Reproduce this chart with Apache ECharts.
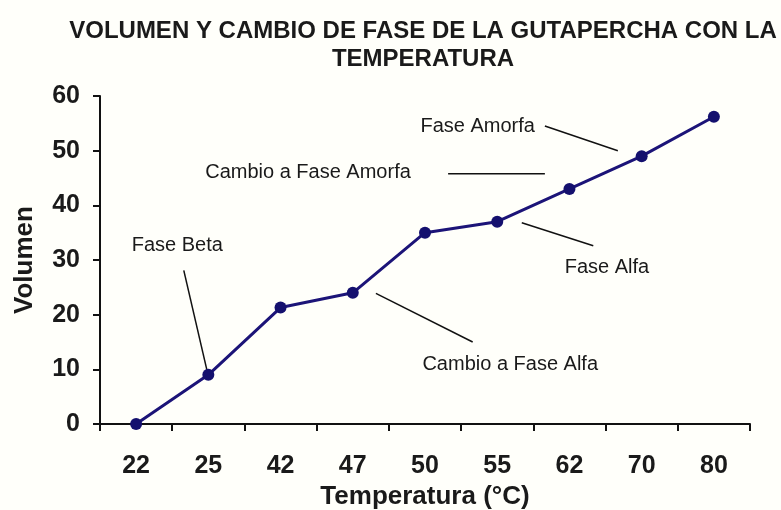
<!DOCTYPE html>
<html>
<head>
<meta charset="utf-8">
<script src="https://cdn.jsdelivr.net/npm/echarts@6/dist/echarts.min.js"></script>
<style>
  html, body { margin: 0; padding: 0; background: #fffffa; }
  #chart { width: 781px; height: 510px; }
</style>
</head>
<body>
<div id="chart"></div>
<script>
const temperatures = ["22", "25", "42", "47", "50", "55", "62", "70", "80"]
const volumen = [0, 9, 21.3, 24, 35, 37, 43, 49, 56.2]
const yTicks = [0, 10, 20, 30, 40, 50, 60]

// annotations, in data units: x runs over category indexes (-0.5 .. 8.5)
const noteTexts = ["Fase Beta", "Cambio a Fase Alfa", "Fase Alfa", "Cambio a Fase Amorfa", "Fase Amorfa"]
const notePoints = [[0.57, 32.6], [5.18, 10.8], [6.52, 28.6], [2.38, 46.0], [4.73, 54.5]]
const leaderLines = [
  [[0.66, 28.1], [0.99, 9.3]],
  [[3.32, 23.9], [4.66, 15.0]],
  [[5.34, 36.8], [6.33, 32.6]],
  [[4.32, 45.8], [5.66, 45.8]],
  [[5.66, 54.5], [6.67, 50.0]]
]

const chart = echarts.init(document.getElementById("chart"))

const colors = {
  line: "#1c1478",
  dot: "#14106e",
  axis: "#111111",
  text: "#1a1a1a"
}
const font = "'Liberation Sans', Arial, sans-serif"

const leaderSeries = leaderLines.map(seg => ({
  type: "line",
  xAxisIndex: 1,
  data: seg,
  symbol: "none",
  silent: true,
  lineStyle: { color: "#111", width: 1.5 },
  z: 1
}))

const option = {
  backgroundColor: "#fffffa",
  animation: false,
  title: {
    text: "VOLUMEN Y CAMBIO DE FASE DE LA GUTAPERCHA CON LA\nTEMPERATURA",
    left: 418,
    top: 12,
    textAlign: "center",
    textStyle: {
      fontFamily: font,
      fontWeight: "bold",
      fontSize: 24,
      lineHeight: 28,
      color: colors.text
    }
  },
  grid: { left: 100, right: 31, top: 96, bottom: 86, outerBoundsMode: "none" },
  xAxis: [
    {
      type: "category",
      data: temperatures,
      boundaryGap: true,
      name: "Temperatura (°C)",
      nameLocation: "middle",
      nameGap: 58,
      nameTextStyle: { fontFamily: font, fontWeight: "bold", fontSize: 26, color: colors.text },
      axisLine: { lineStyle: { color: colors.axis, width: 2 } },
      axisTick: { show: true, interval: 0, length: 7, lineStyle: { color: colors.axis, width: 2 } },
      axisLabel: { fontFamily: font, fontWeight: "bold", fontSize: 25, color: colors.text, margin: 30, interval: 0 },
      splitLine: { show: false }
    },
    { type: "value", min: -0.5, max: 8.5, show: false }
  ],
  yAxis: {
    type: "value",
    min: yTicks[0],
    max: yTicks[yTicks.length - 1],
    interval: 10,
    name: "Volumen",
    nameLocation: "middle",
    nameGap: 62,
    nameRotate: 90,
    nameTextStyle: { fontFamily: font, fontWeight: "bold", fontSize: 26, color: colors.text },
    axisLine: { show: true, onZero: false, lineStyle: { color: colors.axis, width: 2 } },
    axisTick: { show: true, length: 7, lineStyle: { color: colors.axis, width: 2 } },
    axisLabel: { fontFamily: font, fontWeight: "bold", fontSize: 25, color: colors.text, margin: 20 },
    splitLine: { show: false }
  },
  series: [
    ...leaderSeries,
    {
      type: "scatter",
      xAxisIndex: 1,
      symbolSize: 0,
      silent: true,
      itemStyle: { opacity: 1 },
      data: notePoints.map((p, i) => ({ value: p, name: noteTexts[i] })),
      label: {
        show: true,
        position: "inside",
        formatter: p => p.name,
        fontFamily: font,
        fontSize: 20,
        color: colors.text
      }
    },
    {
      type: "line",
      data: volumen,
      symbol: "circle",
      symbolSize: 12,
      lineStyle: { color: colors.line, width: 3 },
      itemStyle: { color: colors.dot },
      z: 3
    }
  ]
}

chart.setOption(option)
</script>
</body>
</html>
